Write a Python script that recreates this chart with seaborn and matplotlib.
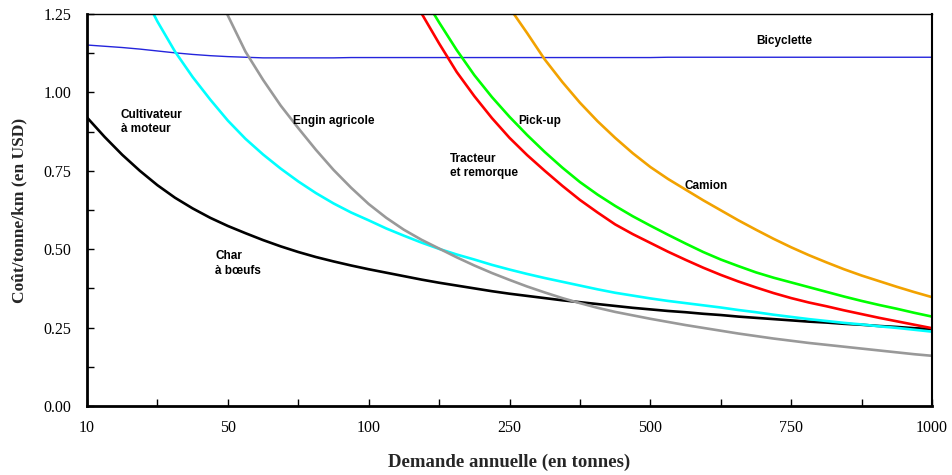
import numpy as np
import pandas as pd
import matplotlib
matplotlib.use("Agg")
import matplotlib.pyplot as plt
from matplotlib.ticker import MultipleLocator
import seaborn as sns

# positions along the category axis (one unit per labelled demand step, read every 1/8)
positions = np.arange(0, 6.001, 0.125)
tick_labels = ["10", "50", "100", "250", "500", "750", "1000"]

nan = np.nan
bicyclette = [1.151, 1.147, 1.143, 1.138, 1.132, 1.126, 1.121, 1.117, 1.114, 1.112,
              1.110, 1.110, 1.110, 1.110, 1.110, 1.111, 1.111, 1.111, 1.111, 1.111,
              1.111, 1.111, 1.111, 1.111, 1.111, 1.111, 1.111, 1.111, 1.111, 1.111,
              1.111, 1.111, 1.111, 1.112, 1.112, 1.112, 1.112, 1.112, 1.112, 1.112,
              1.112, 1.112, 1.112, 1.112, 1.112, 1.112, 1.112, 1.112, 1.112]
char_boeufs = [0.920, 0.858, 0.801, 0.750, 0.704, 0.664, 0.630, 0.600, 0.574, 0.551,
               0.529, 0.509, 0.491, 0.475, 0.461, 0.448, 0.436, 0.425, 0.414, 0.403,
               0.393, 0.384, 0.375, 0.366, 0.358, 0.351, 0.344, 0.337, 0.331, 0.325,
               0.319, 0.313, 0.308, 0.303, 0.299, 0.294, 0.290, 0.285, 0.281, 0.277,
               0.273, 0.269, 0.266, 0.262, 0.259, 0.255, 0.252, 0.248, 0.245]
cultivateur = [nan, nan, nan, 1.335, 1.226, 1.130, 1.049, 0.977, 0.910, 0.852,
               0.802, 0.757, 0.716, 0.679, 0.646, 0.617, 0.592, 0.566, 0.543, 0.521,
               0.501, 0.483, 0.467, 0.450, 0.435, 0.421, 0.408, 0.396, 0.384, 0.372,
               0.361, 0.352, 0.343, 0.335, 0.328, 0.321, 0.314, 0.306, 0.299, 0.291,
               0.284, 0.277, 0.271, 0.265, 0.260, 0.254, 0.249, 0.243, 0.237]
engin = [nan, nan, nan, nan, nan, nan, nan, 1.365, 1.245, 1.130,
         1.040, 0.958, 0.886, 0.817, 0.753, 0.696, 0.644, 0.600, 0.562, 0.530,
         0.502, 0.474, 0.448, 0.424, 0.402, 0.381, 0.362, 0.344, 0.328, 0.313,
         0.300, 0.289, 0.278, 0.268, 0.258, 0.249, 0.240, 0.231, 0.223, 0.215,
         0.208, 0.201, 0.195, 0.189, 0.183, 0.177, 0.171, 0.165, 0.160]
tracteur = [nan, nan, nan, nan, nan, nan, nan, nan, nan, nan,
            nan, nan, nan, nan, nan, nan, nan, nan, 1.360, 1.252,
            1.156, 1.065, 0.988, 0.918, 0.855, 0.800, 0.750, 0.702, 0.657, 0.617,
            0.579, 0.548, 0.520, 0.492, 0.466, 0.441, 0.418, 0.397, 0.378, 0.360,
            0.344, 0.330, 0.318, 0.305, 0.293, 0.281, 0.270, 0.259, 0.248]
pickup = [nan, nan, nan, nan, nan, nan, nan, nan, nan, nan,
          nan, nan, nan, nan, nan, nan, nan, nan, nan, 1.315,
          1.223, 1.135, 1.055, 0.985, 0.922, 0.864, 0.810, 0.760, 0.714, 0.674,
          0.638, 0.605, 0.575, 0.546, 0.518, 0.491, 0.467, 0.446, 0.426, 0.409,
          0.394, 0.379, 0.364, 0.349, 0.335, 0.322, 0.310, 0.297, 0.285]
camion = [nan, nan, nan, nan, nan, nan, nan, nan, nan, nan,
          nan, nan, nan, nan, nan, nan, nan, nan, nan, nan,
          nan, nan, nan, nan, 1.270, 1.189, 1.105, 1.033, 0.967, 0.908,
          0.855, 0.806, 0.762, 0.724, 0.690, 0.656, 0.624, 0.592, 0.562, 0.533,
          0.506, 0.481, 0.458, 0.436, 0.416, 0.398, 0.380, 0.363, 0.347]

series = [
    ("Bicyclette", bicyclette, "#2424dc", 1.0),
    ("Char à bœufs", char_boeufs, "black", 1.9),
    ("Cultivateur à moteur", cultivateur, "#00ffff", 1.9),
    ("Engin agricole", engin, "#999999", 1.9),
    ("Tracteur et remorque", tracteur, "#ff0000", 1.9),
    ("Pick-up", pickup, "#00ff00", 1.9),
    ("Camion", camion, "#f2a200", 1.9),
]

sns.set_style("white")
plt.rcParams["font.family"] = ["Liberation Serif", "DejaVu Serif"]

fig = plt.figure(figsize=(9.53, 4.75), dpi=100)
ax = fig.add_axes([0.0913, 0.1453, 0.8867, 0.8253])

for name, vals, color, lw in series:
    df = pd.DataFrame({"pos": positions, "cost": vals}).dropna()
    sns.lineplot(data=df, x="pos", y="cost", color=color, linewidth=lw, ax=ax,
                 sort=True, estimator=None)

ax.set_xlim(0, 6)
ax.set_ylim(0, 1.25)
ax.set_xticks(range(len(tick_labels)))
ax.set_xticklabels(tick_labels)
ax.xaxis.set_minor_locator(MultipleLocator(0.5))
ax.yaxis.set_major_locator(MultipleLocator(0.25))
ax.yaxis.set_minor_locator(MultipleLocator(0.125))
ax.set_yticklabels([f"{v:.2f}" for v in ax.get_yticks()])

ax.tick_params(which="both", direction="in", length=5, width=1, colors="black",
               labelsize=11.5)
ax.tick_params(axis="x", pad=10)
ax.tick_params(axis="y", pad=11)
ax.tick_params(which="both", left=True, bottom=True)

for side, w in [("left", 2.0), ("bottom", 2.0), ("top", 1.0), ("right", 1.5)]:
    ax.spines[side].set_visible(True)
    ax.spines[side].set_color("black")
    ax.spines[side].set_linewidth(w)

ax.set_xlabel("Demande annuelle (en tonnes)", fontsize=13.5, fontweight="bold")
ax.set_ylabel("Coût/tonne/km (en USD)", fontsize=12.5, fontweight="bold")
ax.xaxis.set_label_coords(0.5, -0.122)
ax.yaxis.set_label_coords(-0.071, 0.5)

label_font = dict(family=["Liberation Sans", "DejaVu Sans"], fontsize=8.5,
                  fontweight="bold", color="black", linespacing=1.3)
ax.text(0.241, 0.948, "Cultivateur\nà moteur", ha="left", va="top", **label_font)
ax.text(1.463, 0.909, "Engin agricole", ha="left", va="center", **label_font)
ax.text(3.059, 0.909, "Pick-up", ha="left", va="center", **label_font)
ax.text(2.578, 0.808, "Tracteur\net remorque", ha="left", va="top", **label_font)
ax.text(4.24, 0.70, "Camion", ha="left", va="center", **label_font)
ax.text(4.75, 1.164, "Bicyclette", ha="left", va="center", **label_font)
ax.text(0.909, 0.498, "Char\nà bœufs", ha="left", va="top", **label_font)

fig.savefig("out.png", dpi=100)
